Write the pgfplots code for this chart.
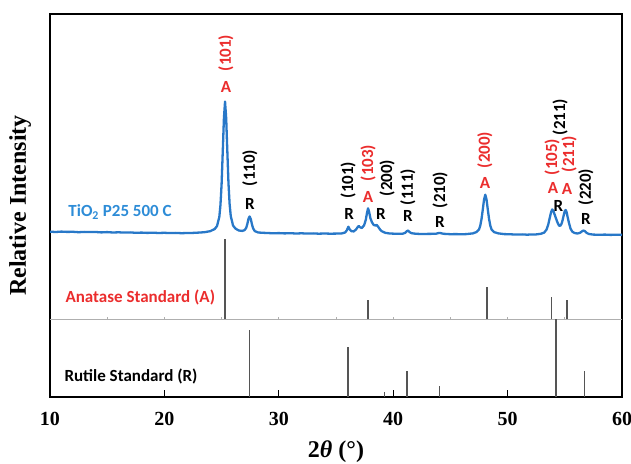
\documentclass[border=0pt]{standalone}
\usepackage{pgfplots}
\pgfplotsset{compat=1.18}
\usepackage{fontspec}
\setmainfont{Liberation Serif}
\newfontfamily\calfont{Carlito}
\definecolor{specblue}{RGB}{40,120,200}
\definecolor{labblue}{RGB}{45,140,215}
\definecolor{pkred}{RGB}{235,45,45}
\definecolor{stickgray}{RGB}{85,85,85}
\definecolor{divgray}{RGB}{175,175,175}
\begin{document}
\begin{tikzpicture}
\begin{axis}[
 scale only axis, width=572pt, height=383pt,
 xmin=10, xmax=60, ymin=0, ymax=383,
 xtick={10,20,...,60}, ytick=\empty,
 xtick pos=bottom, tick align=inside, major tick length=7pt,
 axis line style={line width=1.6pt},
 tick style={line width=1pt,black},
 clip mode=individual,
 unbounded coords=jump,
 xticklabel style={font=\fontsize{20}{20}\selectfont\bfseries, yshift=-12pt},
 /pgf/number format/assume math mode=true,
 xlabel={2\textit{θ} (°)},
 ylabel={Relative Intensity},
 every axis x label/.style={at={(axis description cs:0.5,-0.1436)}, anchor=center, font=\fontsize{24}{24}\selectfont\bfseries},
 every axis y label/.style={at={(axis description cs:-0.0524,0.5)}, anchor=center, rotate=90, font=\fontsize{24}{24}\selectfont\bfseries},
]
% divider between standards
\addplot[divgray, line width=0.9pt] coordinates {(10,78) (60,78)};
\addplot[divgray, line width=0.8pt] coordinates {(15,78) (15,80.5) (15,nan) (20,78) (20,80.5) (20,nan) (25,78) (25,80.5) (25,nan) (30,78) (30,80.5) (30,nan) (35,78) (35,80.5) (35,nan) (40,78) (40,80.5) (40,nan) (45,78) (45,80.5) (45,nan) (50,78) (50,80.5) (50,nan) (55,78) (55,80.5)};
% anatase standard
\addplot[stickgray, line width=1.5pt] coordinates {(25.28,78) (25.28,158) (25.28,nan) (37.8,78) (37.8,97) (37.8,nan) (48.2,78) (48.2,110) (48.2,nan) (53.85,78) (53.85,100) (53.85,nan) (55.2,78) (55.2,97)};
% rutile standard
\addplot[stickgray, line width=1.5pt] coordinates {(27.45,0) (27.45,67) (27.45,nan) (36.05,0) (36.05,50) (36.05,nan) (39.25,0) (39.25,5) (39.25,nan) (41.2,0) (41.2,26) (41.2,nan) (44.05,0) (44.05,11) (44.05,nan) (54.25,0) (54.25,78) (54.25,nan) (56.7,0) (56.7,26)};
% measured pattern
\addplot[specblue, line width=2.3pt, line join=round] coordinates {
(10,165.3) (10.5,165.0) (11,165.4) (11.5,165.1) (12,165.2) (12.5,164.8) (13,165.1) (13.5,164.9) (14,165.0) (14.5,164.6) (15,164.9) (15.5,164.5) (16,164.7) (16.5,164.4) (17,164.6) (17.5,164.2) (18,164.4) (18.5,164.1) (19,164.3) (19.5,164.0) (20,164.2) (20.5,163.9) (21,164.1) (21.5,163.8) (22,164.0) (22.5,164.1) (23,164.4) (23.5,164.8) (24,165.8) (24.4,168) (24.6,171) (24.8,180) (24.9,192) (25.0,213) (25.1,245) (25.2,278) (25.3,295.5) (25.4,279) (25.5,246) (25.6,214) (25.7,193) (25.8,181) (26.0,171.5) (26.2,168.5) (26.5,166.5) (26.8,166.1) (27.0,166.8) (27.15,169.1) (27.25,173) (27.35,178.2) (27.45,180.5) (27.55,178) (27.65,172.8) (27.75,168.8) (27.9,165.9) (28.2,164.5) (28.6,164.2) (29,164.0) (29.5,163.7) (30,163.9) (30.5,163.6) (31,163.8) (31.5,163.5) (32,163.7) (32.5,163.4) (33,163.6) (33.5,163.3) (34,163.5) (34.5,163.3) (35.0,163.4) (35.5,163.6) (35.8,164.5) (35.95,166.8) (36.08,170.3) (36.2,167.5) (36.35,165.8) (36.55,165.6) (36.75,167.5) (36.9,170) (37.0,171) (37.1,169.8) (37.25,169) (37.45,171.5) (37.6,177) (37.7,183.5) (37.8,188.7) (37.9,185) (38.0,179) (38.15,174.5) (38.3,172) (38.45,171.5) (38.56,172) (38.7,170) (38.85,167.5) (39.0,165.8) (39.3,164.2) (39.7,163.5) (40.3,163.2) (40.8,163.2) (41.05,164.2) (41.18,165.8) (41.3,166.5) (41.42,165) (41.6,163.8) (42,163.2) (42.5,163.0) (43,163.1) (43.7,163.2) (44.0,164) (44.1,164) (44.4,163.2) (45,162.8) (45.5,162.9) (46,162.7) (46.4,162.9) (46.95,163.6) (47.28,164.9) (47.5,167.5) (47.61,171.3) (47.72,178) (47.83,187.3) (47.94,197.4) (48.05,202.3) (48.16,197.4) (48.27,187.3) (48.38,178) (48.49,171.3) (48.6,167.5) (48.82,164.9) (49.15,163.7) (49.7,162.9) (50.25,162.7) (50.8,162.4) (51.3,162.6) (51.7,162.3) (52.0,162.5) (52.5,162.6) (52.9,163.2) (53.2,164.4) (53.4,167.4) (53.55,172.3) (53.7,179.9) (53.8,184.8) (53.9,187.6) (54.0,186.1) (54.1,182.8) (54.2,179.6) (54.3,176.3) (54.4,173.5) (54.5,171.4) (54.6,171.2) (54.7,172.8) (54.8,176.5) (54.9,181.5) (55.0,186) (55.07,187) (55.15,185.2) (55.25,179.8) (55.35,174.7) (55.5,168.4) (55.65,165.4) (55.85,164) (56.1,163.5) (56.3,164.1) (56.45,165.1) (56.55,166.1) (56.64,166.4) (56.75,165.9) (56.9,164.2) (57.1,163) (57.5,162.4) (58,162.2) (58.5,162.4) (59,162.1) (59.5,162.3) (60,162.1)};
% panel labels
\node[anchor=west, text=labblue, font=\calfont\bfseries\fontsize{17}{17}\selectfont] at (axis cs:11.3,185) {TiO\textsubscript{2} P25 500 C};
\node[anchor=west, text=pkred, font=\calfont\bfseries\fontsize{17}{17}\selectfont] at (axis cs:11.05,100) {Anatase Standard (A)};
\node[anchor=west, text=black, font=\calfont\bfseries\fontsize{17}{17}\selectfont] at (axis cs:10.96,21) {Rutile Standard (R)};
% peak letters
\begin{scope}[every node/.style={font=\calfont\bfseries\fontsize{17}{17}\selectfont, inner sep=0pt}]
\node[text=pkred] at (axis cs:25.38,310) {A};
\node[text=pkred] at (axis cs:37.80,200) {A};
\node[text=pkred] at (axis cs:48.02,214) {A};
\node[text=pkred] at (axis cs:53.97,209) {A};
\node[text=pkred] at (axis cs:55.19,208) {A};
\node at (axis cs:27.48,193) {R};
\node at (axis cs:36.14,183) {R};
\node at (axis cs:38.93,183) {R};
\node at (axis cs:41.29,181) {R};
\node at (axis cs:44.09,175) {R};
\node at (axis cs:54.45,191.5) {R};
\node at (axis cs:56.85,178) {R};
% Miller indices
\node[rotate=90, text=pkred] at (axis cs:25.38,344) {(101)};
\node[rotate=90, text=pkred] at (axis cs:37.80,234) {(103)};
\node[rotate=90, text=pkred] at (axis cs:48.02,247) {(200)};
\node[rotate=90, text=pkred] at (axis cs:53.88,240) {(105)};
\node[rotate=90, text=pkred] at (axis cs:55.37,243) {(211)};
\node[rotate=90] at (axis cs:27.48,229) {(110)};
\node[rotate=90] at (axis cs:36.05,217) {(101)};
\node[rotate=90] at (axis cs:39.46,219) {(200)};
\node[rotate=90] at (axis cs:41.29,210) {(111)};
\node[rotate=90] at (axis cs:44.09,207) {(210)};
\node[rotate=90] at (axis cs:54.58,280) {(211)};
\node[rotate=90] at (axis cs:56.85,210) {(220)};
\end{scope}
\end{axis}
\pgfresetboundingbox
\path ([shift={(-50pt,-66pt)}]current axis.south west) rectangle ([shift={(9pt,14pt)}]current axis.north east);
\end{tikzpicture}
\end{document}
